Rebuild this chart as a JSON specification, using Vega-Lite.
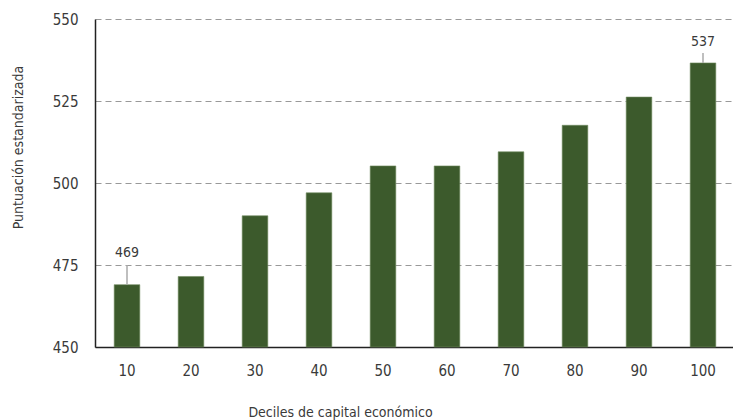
{
  "$schema": "https://vega.github.io/schema/vega-lite/v6.json",
  "width": 640,
  "height": 328,
  "autosize": "none",
  "padding": {"left": 95, "top": 19, "right": 0, "bottom": 73},
  "background": "white",
  "config": {
    "view": {"stroke": null},
    "font": "DejaVu Sans Condensed, Liberation Sans Narrow, sans-serif",
    "axis": {"labelFont": "DejaVu Sans Condensed, Liberation Sans Narrow, sans-serif", "titleFont": "DejaVu Sans Condensed, Liberation Sans Narrow, sans-serif"}
  },
  "data": {
    "values": [
      {"decil": "10", "valor": 469},
      {"decil": "20", "valor": 471.5},
      {"decil": "30", "valor": 490},
      {"decil": "40", "valor": 497},
      {"decil": "50", "valor": 505.2},
      {"decil": "60", "valor": 505.2},
      {"decil": "70", "valor": 509.5},
      {"decil": "80", "valor": 517.6},
      {"decil": "90", "valor": 526.2},
      {"decil": "100", "valor": 536.6}
    ]
  },
  "encoding": {
    "x": {
      "field": "decil",
      "type": "ordinal",
      "sort": null,
      "scale": {"paddingInner": 0.6, "paddingOuter": 0.3},
      "axis": {
        "title": "Deciles de capital económico",
        "labelAngle": 0,
        "labelFontSize": 15,
        "labelColor": "#3a3a3a",
        "labelPadding": 16,
        "ticks": false,
        "domainColor": "#222",
        "domainWidth": 1.5,
        "titleFontSize": 14,
        "titleFontWeight": "normal",
        "titleColor": "#3a3a3a",
        "titleX": 245,
        "titleY": 65,
        "titleBaseline": "middle",
        "titleAnchor": "middle"
      }
    },
    "y": {
      "field": "valor",
      "type": "quantitative",
      "scale": {"domain": [450, 550], "zero": false},
      "axis": {
        "title": "Puntuación estandarizada",
        "values": [450, 475, 500, 525, 550],
        "labelFontSize": 15,
        "labelColor": "#3a3a3a",
        "labelPadding": 17,
        "ticks": false,
        "domainColor": "#222",
        "domainWidth": 1.5,
        "grid": true,
        "gridColor": "#999",
        "gridDash": [6, 4],
        "gridWidth": 1,
        "titleFontSize": 14,
        "titleFontWeight": "normal",
        "titleColor": "#3a3a3a",
        "titleX": -77,
        "titleY": 128,
        "titleAngle": -90,
        "titleBaseline": "middle",
        "titleAnchor": "middle"
      }
    }
  },
  "layer": [
    {
      "mark": {"type": "bar", "color": "#3c5a2c", "stroke": "#6e8a5e", "strokeWidth": 0.6},
      "encoding": {"y2": {"datum": 450}}
    },
    {
      "transform": [{"filter": "datum.decil == '10'"}],
      "mark": {"type": "rule", "color": "#aaa", "strokeWidth": 1.5},
      "encoding": {"y2": {"datum": 475}}
    },
    {
      "transform": [{"filter": "datum.decil == '100'"}],
      "mark": {"type": "rule", "color": "#aaa", "strokeWidth": 1.5},
      "encoding": {"y2": {"datum": 539.6}}
    },
    {
      "transform": [{"filter": "datum.decil == '10'"}],
      "mark": {"type": "text", "fontSize": 14, "color": "#3a3a3a", "dy": -32, "baseline": "middle"},
      "encoding": {"text": {"field": "valor", "type": "quantitative", "format": ".0f"}}
    },
    {
      "transform": [{"filter": "datum.decil == '100'"}],
      "mark": {"type": "text", "fontSize": 14, "color": "#3a3a3a", "dy": -21, "baseline": "middle"},
      "encoding": {"text": {"field": "valor", "type": "quantitative", "format": ".0f"}}
    }
  ]
}
